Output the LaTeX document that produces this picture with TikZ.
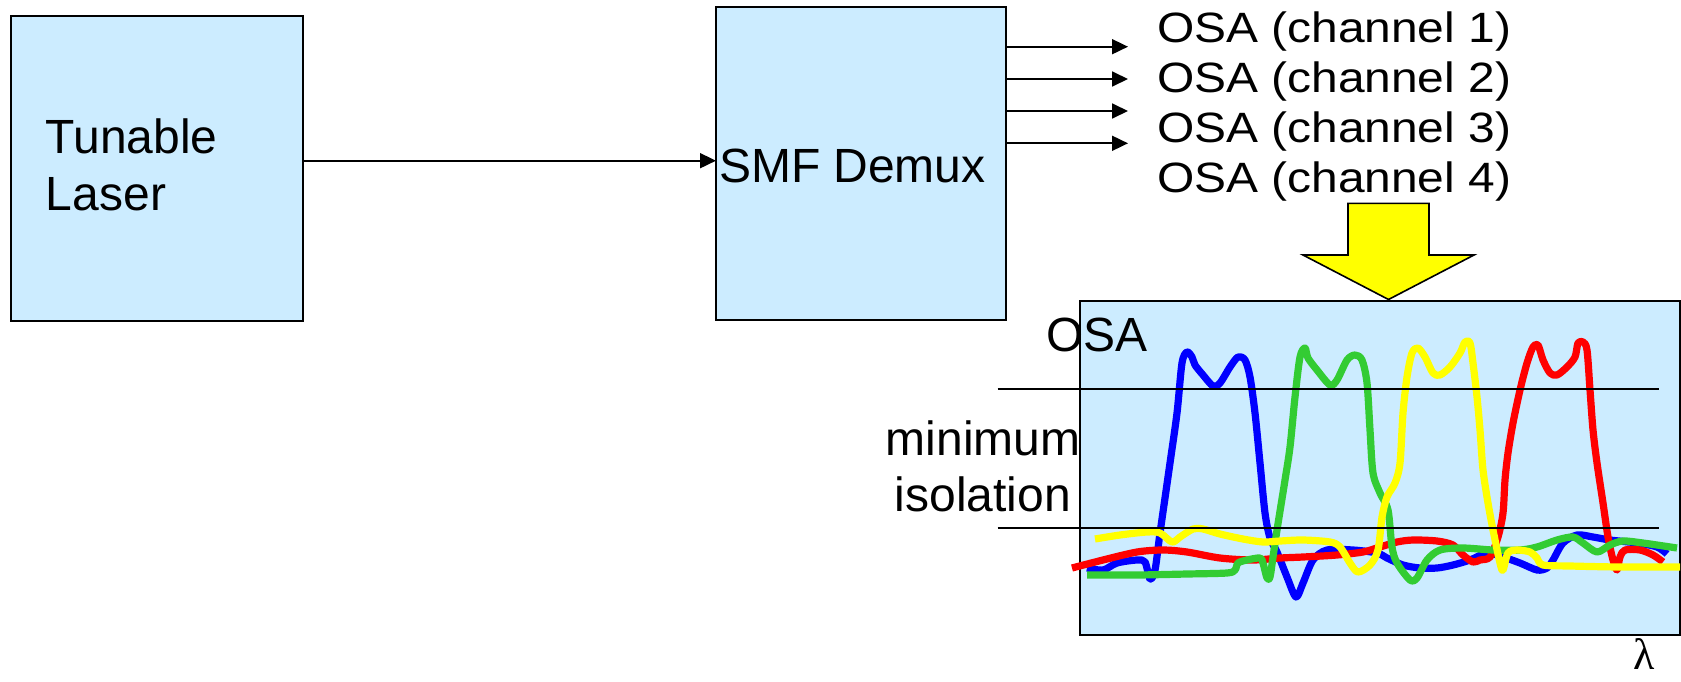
\documentclass[tikz,border=0pt]{standalone}
\usepackage{fontspec}
\setmainfont{Liberation Sans}
\newfontfamily\lamfont{Liberation Serif}
\usetikzlibrary{arrows.meta}
\definecolor{boxfill}{HTML}{CCECFF}
\definecolor{cgreen}{HTML}{33CC33}
\definecolor{cblue}{HTML}{0000FF}
\definecolor{cred}{HTML}{FF0000}
\definecolor{cyellow}{HTML}{FFFF00}
\begin{document}
\begin{tikzpicture}[x=0.5pt,y=-0.5pt,
  blockbox/.style={draw=black, line width=1pt, fill=boxfill, inner sep=0, outer sep=0},
  lbl/.style={inner sep=0, outer sep=0, font=\fontsize{24}{28.35}\selectfont},
  chlbl/.style={inner sep=0, outer sep=0, font=\fontsize{21.2}{25}\selectfont},
  conn/.style={line width=0.9pt, -{Triangle[length=8pt,width=7.5pt]}},
  trace/.style={line width=3.6pt, line join=round},
  guide/.style={line width=1pt, draw=black}]
\useasboundingbox (0,0) rectangle (1681,681);

% blocks
\node[blockbox, minimum width=146.35pt, minimum height=152.35pt] (laser) at (157.05,168.35) {};
\node[blockbox, minimum width=145pt, minimum height=156.35pt] (demux) at (861,163.65) {};
\node[blockbox, minimum width=300pt, minimum height=167pt] (osa) at (1380,468) {};

% texts
\node[lbl, anchor=base west] (laserlbl) at (46,153.3) {\vtop{\hbox{Tunable}\hbox{Laser}}};
\node[lbl, anchor=base west] (demuxlbl) at (719,182.5) {SMF Demux};
\node[chlbl, anchor=base west] (ch1) at (1157,42.3) {\scalebox{1.13}[1]{OSA (channel 1)}};
\node[chlbl, anchor=base west] (ch2) at (1157,92.3) {\scalebox{1.13}[1]{OSA (channel 2)}};
\node[chlbl, anchor=base west] (ch3) at (1157,142.3) {\scalebox{1.13}[1]{OSA (channel 3)}};
\node[chlbl, anchor=base west] (ch4) at (1157,192.3) {\scalebox{1.13}[1]{OSA (channel 4)}};

% connectors
\coordinate (a0) at (0,160.7);
\draw[conn] (laser.east |- a0) -- (demux.west |- a0);
\coordinate (o1) at (1128,46.7);
\coordinate (o2) at (1128,79);
\coordinate (o3) at (1128,111);
\coordinate (o4) at (1128,143.3);
\draw[conn] (demux.east |- o1) -- (o1);
\draw[conn] (demux.east |- o2) -- (o2);
\draw[conn] (demux.east |- o3) -- (o3);
\draw[conn] (demux.east |- o4) -- (o4);

% yellow block arrow
\draw[fill=cyellow, draw=black, line width=0.8pt, line join=miter]
  (1348,203.3) -- (1429,203.3) -- (1429,255) -- (1474,255) -- (1388.5,299.5)
  -- (1303,255) -- (1348,255) -- cycle;

% spectra
\draw[trace, cblue] plot[smooth, tension=0.5] coordinates {
 (1087,568) (1103,570) (1117,563) (1137,560) (1145,562) (1150,579) (1155,570)
 (1160,533) (1170,463) (1177,413) (1182,363) (1187,352) (1192,357) (1195,365)
 (1203,375) (1213,386) (1220,383) (1230,367) (1238,357) (1245,360) (1250,377)
 (1255,413) (1260,463) (1265,513) (1270,538) (1277,552) (1287,577) (1296,597)
 (1303,583) (1313,560) (1327,550) (1353,550) (1377,553) (1387,558) (1403,565)
 (1420,568) (1437,568) (1453,565) (1470,560) (1487,553) (1503,557) (1520,563)
 (1537,570) (1547,568) (1553,560) (1563,543) (1577,535) (1593,537) (1610,540)
 (1637,543) (1657,547) (1667,554)};
\draw[trace, cred] plot[smooth, tension=0.5] coordinates {
 (1072,568) (1103,560) (1137,552) (1163,550) (1187,552) (1220,558) (1253,560)
 (1280,558) (1303,557) (1337,555) (1363,552) (1380,547) (1397,542) (1413,540)
 (1437,541) (1453,545) (1463,555) (1473,562) (1480,560) (1490,557) (1498,537)
 (1503,513) (1505,480) (1508,453) (1513,423) (1520,390) (1527,363) (1533,347)
 (1538,345) (1543,360) (1550,373) (1557,375) (1567,367) (1575,357) (1578,343)
 (1583,342) (1587,350) (1590,390) (1593,430) (1597,463) (1603,503) (1608,537)
 (1613,560) (1617,570) (1620,557) (1625,550) (1640,550) (1653,555) (1663,562)};
\draw[trace, cgreen] plot[smooth, tension=0.5] coordinates {
 (1087,575) (1137,575) (1187,574) (1227,573) (1235,570) (1238,563) (1247,560)
 (1260,558) (1263,563) (1267,578) (1270,577) (1273,557) (1277,530) (1285,480)
 (1290,447) (1295,397) (1300,357) (1305,348) (1308,358) (1317,370) (1330,385)
 (1337,380) (1347,360) (1355,355) (1362,360) (1367,383) (1370,430) (1373,473)
 (1380,493) (1388,510) (1392,547) (1397,563) (1410,580) (1417,578) (1427,560)
 (1440,550) (1463,548) (1493,550) (1520,550) (1537,547) (1557,540) (1573,537)
 (1583,543) (1597,552) (1610,545) (1623,541) (1643,543) (1677,548)};
\draw[trace, cyellow] plot[smooth, tension=0.5] coordinates {
 (1095,539) (1120,535) (1147,532) (1160,533) (1172,542) (1180,537) (1193,529)
 (1203,529) (1220,534) (1243,539) (1263,542) (1280,541) (1303,540) (1330,542)
 (1340,547) (1350,563) (1358,572) (1370,565) (1378,550) (1382,517) (1387,497)
 (1395,483) (1400,463) (1403,413) (1407,377) (1412,353) (1418,348) (1425,357)
 (1433,373) (1440,375) (1450,367) (1460,353) (1465,342) (1470,343) (1473,363)
 (1477,397) (1480,430) (1483,470) (1488,503) (1493,530) (1500,563) (1503,570)
 (1508,553) (1517,550) (1530,552) (1537,558) (1543,565) (1570,566) (1620,567)
 (1680,567)};

% isolation guide lines
\coordinate (g1a) at (997.7,388.5);
\coordinate (g1b) at (1659,388.5);
\coordinate (g2a) at (997.7,527.7);
\coordinate (g2b) at (1659,527.7);
\draw[guide] (g1a) -- (g1b);
\draw[guide] (g2a) -- (g2b);

% graph labels
\node[lbl, anchor=base west] (osalbl) at (1046,351.7) {OSA};
\node[lbl, anchor=base] (isolbl) at (983,455) {\vtop{\halign{\hfil#\hfil\cr minimum\cr isolation\cr}}};
\node[inner sep=0, outer sep=0, anchor=base, font=\lamfont\fontsize{22}{26}\selectfont] (lam) at (1644,669) {λ};
\end{tikzpicture}
\end{document}
